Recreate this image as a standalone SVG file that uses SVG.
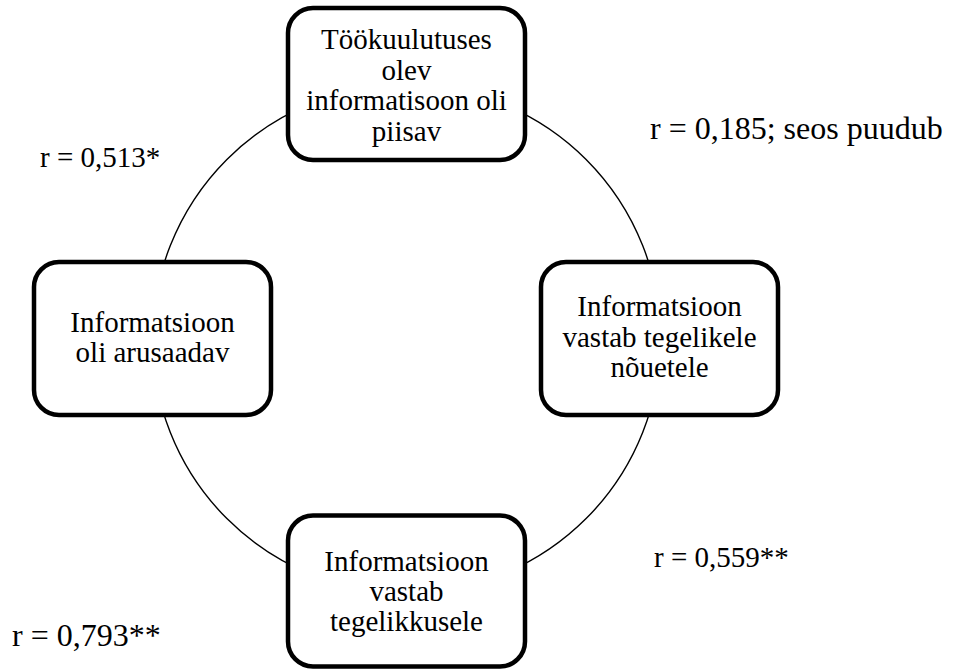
<svg xmlns="http://www.w3.org/2000/svg" width="956" height="671" viewBox="0 0 956 671">
  <style>
    .ring { fill: none; stroke: #000; stroke-width: 1.4; }
    .box { fill: #fff; stroke: #000; stroke-width: 4.5; }
    .t { font-family: 'Liberation Serif', 'DejaVu Serif', 'Times New Roman', Times, serif; font-size: 29px; fill: #000; }
    .big { font-size: 32px; }
    .c { text-anchor: middle; }
  </style>
  <rect width="956" height="671" fill="#fff"/>

  <!-- connector ring linking the four statements -->
  <g id="connectors">
    <circle class="ring" cx="406.5" cy="339" r="254"/>
  </g>

  <g id="node-top" class="t">
    <rect class="box" x="288" y="8" width="237" height="152" rx="25" ry="25"/>
    <text class="c" x="406.5" y="49">Töökuulutuses</text>
    <text class="c" x="406.5" y="79.5">olev</text>
    <text class="c" x="406.5" y="110">informatisoon oli</text>
    <text class="c" x="406.5" y="140.5">piisav</text>
  </g>

  <g id="node-right" class="t">
    <rect class="box" x="541" y="262" width="237" height="153" rx="25" ry="25"/>
    <text class="c" x="659.5" y="316">Informatsioon</text>
    <text class="c" x="659.5" y="346.5">vastab tegelikele</text>
    <text class="c" x="659.5" y="377">nõuetele</text>
  </g>

  <g id="node-bottom" class="t">
    <rect class="box" x="288" y="515.5" width="237" height="151" rx="25" ry="25"/>
    <text class="c" x="406.5" y="570.5">Informatsioon</text>
    <text class="c" x="406.5" y="601">vastab</text>
    <text class="c" x="406.5" y="631">tegelikkusele</text>
  </g>

  <g id="node-left" class="t">
    <rect class="box" x="34" y="262" width="237" height="153" rx="25" ry="25"/>
    <text class="c" x="152.5" y="331.5">Informatsioon</text>
    <text class="c" x="152.5" y="362">oli arusaadav</text>
  </g>

  <!-- correlation labels -->
  <g id="labels" class="t">
    <text x="40" y="167">r = 0,513*</text>
    <text class="big" x="650" y="139">r = 0,185; seos puudub</text>
    <text class="big" x="12" y="646">r = 0,793**</text>
    <text x="654" y="567">r = 0,559**</text>
  </g>
</svg>
